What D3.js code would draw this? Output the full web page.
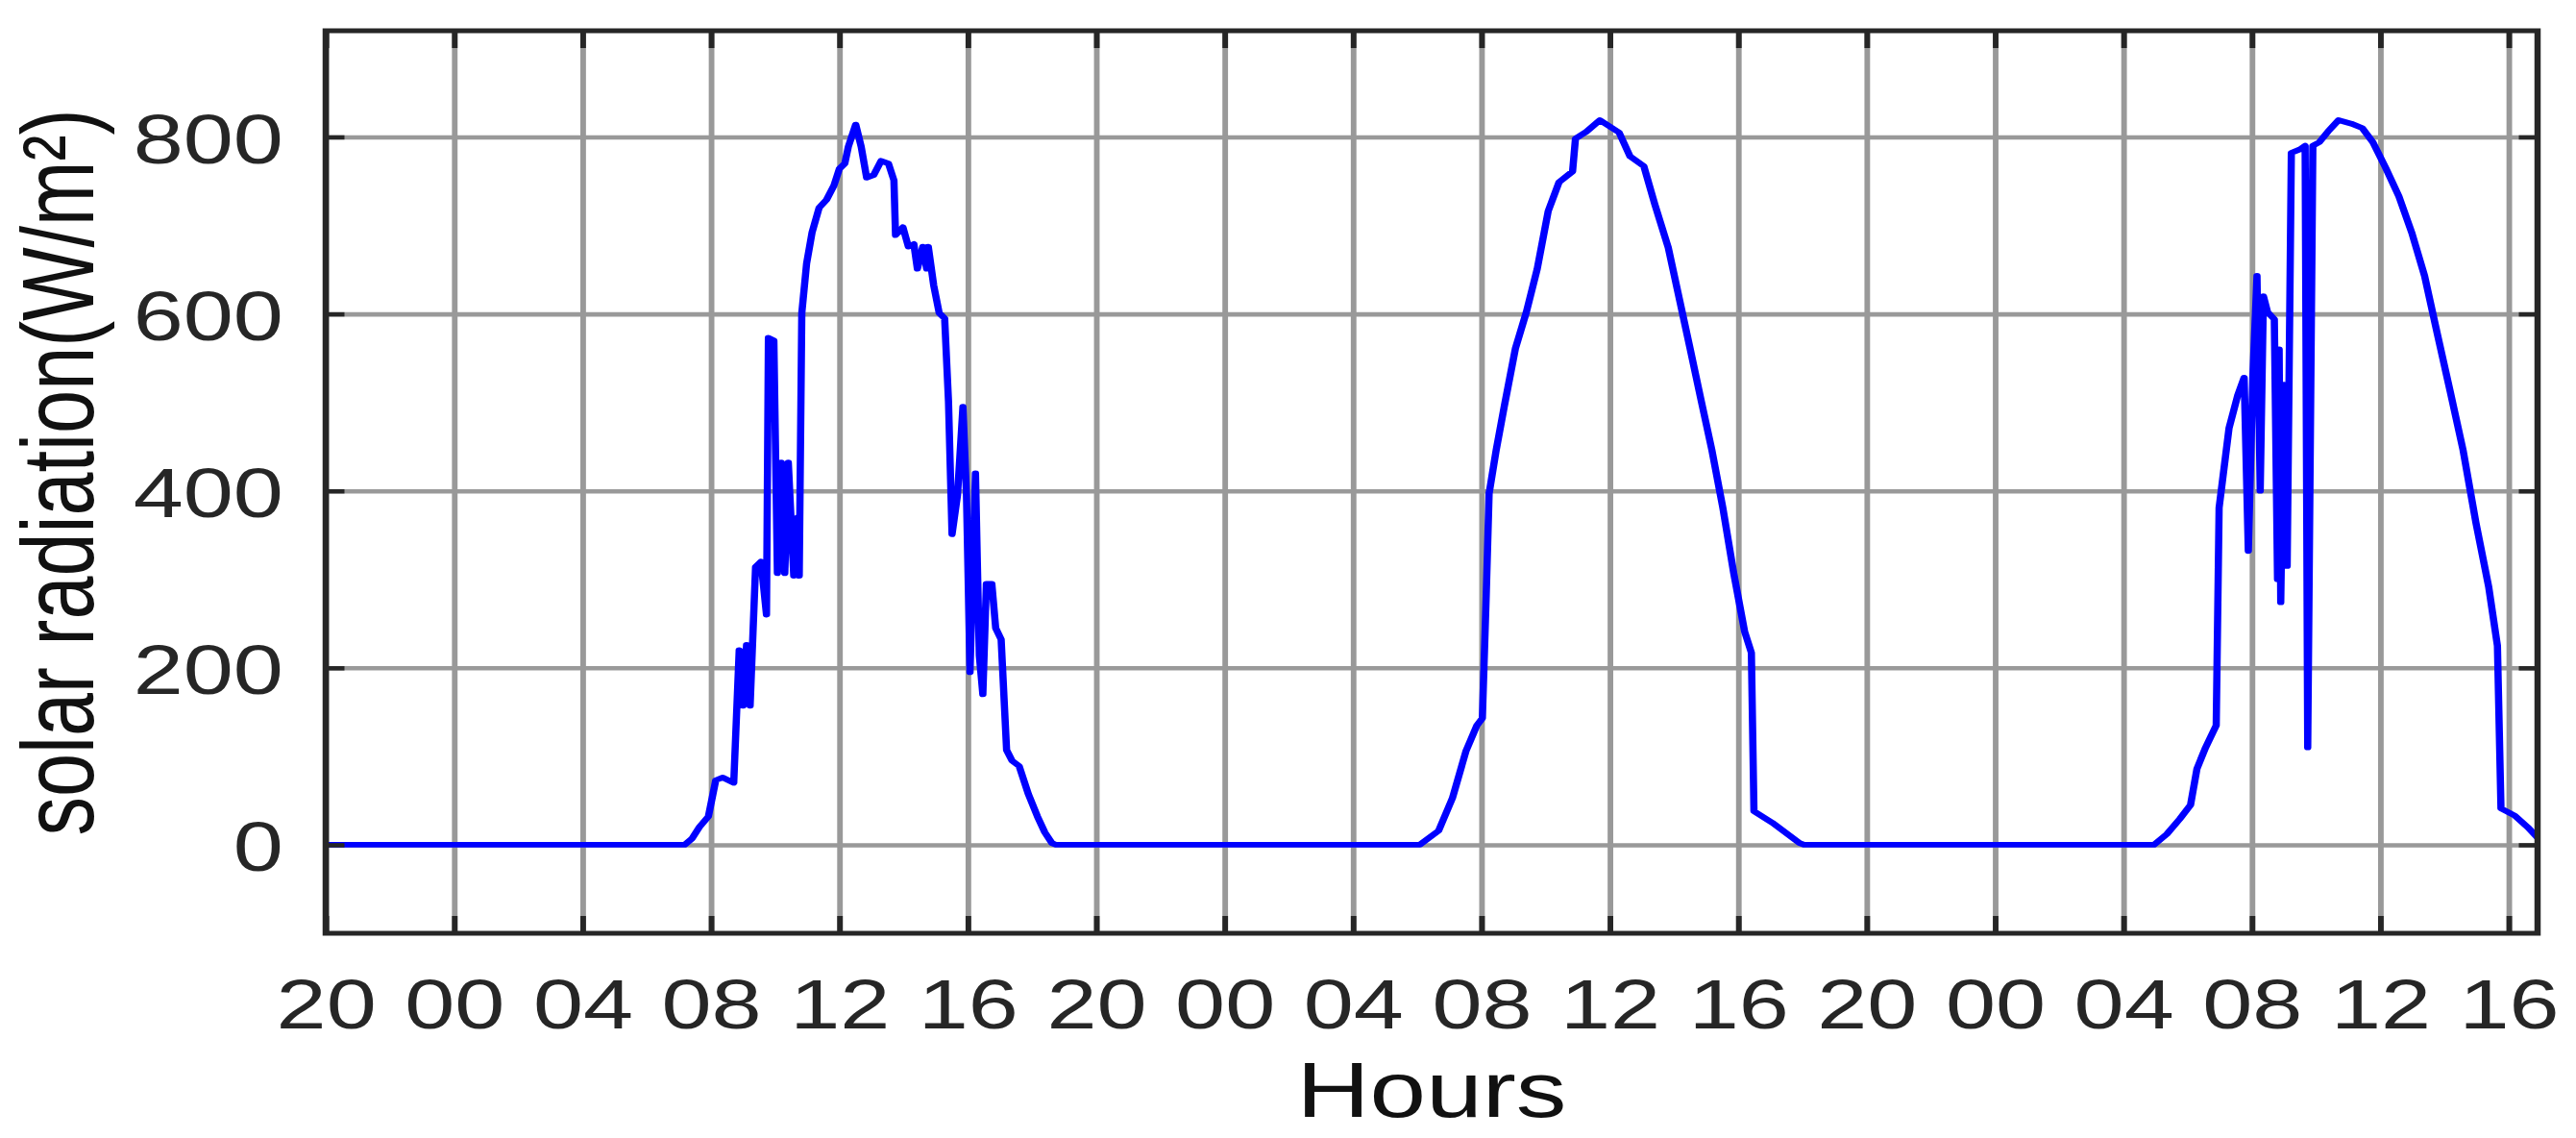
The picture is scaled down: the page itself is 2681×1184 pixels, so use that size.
<!DOCTYPE html>
<html>
<head>
<meta charset="utf-8">
<script src="https://cdn.jsdelivr.net/npm/d3@7"></script>
<style>
  body { margin: 0; background: #fff; }
  svg { display: block; }
  text { font-family: "Liberation Sans", Arial, sans-serif; }
</style>
</head>
<body>
<svg id="chart" width="2681" height="1184"></svg>
<script>
// hours counted from 20:00 of the first day
const hours = [
  0, 11.18, 11.41, 11.64, 11.92, 12.15, 12.37, 12.71, 12.88, 13.00, 13.11, 13.22,
  13.39, 13.56, 13.73, 13.79, 13.96, 14.07, 14.19, 14.30, 14.41, 14.58, 14.70, 14.75,
  14.83, 14.98, 15.15, 15.37, 15.60, 15.83, 16.00, 16.17, 16.28, 16.51, 16.68, 16.85,
  17.07, 17.30, 17.53, 17.70, 17.75, 17.98, 18.15, 18.32, 18.43, 18.60, 18.72, 18.77,
  18.94, 19.11, 19.28, 19.40, 19.51, 19.68, 19.85, 19.96, 20.07, 20.24, 20.36, 20.47,
  20.58, 20.75, 20.87, 21.04, 21.21, 21.38, 21.60, 21.89, 22.17, 22.40, 22.62, 22.75,
  34.08, 34.67, 35.10, 35.52, 35.86, 36.03, 36.15, 36.24, 36.46, 36.71, 37.06, 37.40,
  37.74, 38.08, 38.42, 38.84, 38.93, 39.27, 39.69, 40.29, 40.63, 41.06, 41.40, 41.82,
  42.16, 42.50, 42.84, 43.18, 43.52, 43.86, 44.20, 44.41, 44.49, 45.06, 45.91, 46.05,
  56.95, 57.35, 57.75, 58.09, 58.29, 58.56, 58.89, 58.98, 59.09, 59.29, 59.56, 59.76,
  59.89, 60.03, 60.16, 60.26, 60.36, 60.49, 60.70, 60.80, 60.85, 60.90, 61.00, 61.10,
  61.23, 61.50, 61.66, 61.74, 61.90, 62.10, 62.37, 62.70, 63.10, 63.44, 63.77, 64.17,
  64.58, 64.98, 65.38, 65.78, 66.18, 66.58, 66.98, 67.38, 67.65, 67.76, 68.19, 68.59,
  68.9
];
const radiation = [
  0, 0, 7, 20, 32, 73, 76, 70, 220, 157, 226, 157,
  314, 320, 260, 573, 570, 307, 432, 307, 432, 304, 370, 304,
  601, 657, 692, 720, 729, 745, 764, 770, 789, 814, 789, 754,
  757, 773, 770, 751, 689, 698, 676, 679, 651, 676, 651, 676,
  632, 601, 595, 501, 351, 395, 495, 395, 195, 420, 214, 170,
  295, 295, 245, 232, 107, 95, 89, 57, 32, 14, 2, 0,
  0, 16, 53, 106, 135, 143, 282, 397, 446, 495, 561, 602,
  651, 716, 749, 761, 798, 806, 819, 805, 778, 767, 724, 675,
  618, 561, 503, 446, 381, 307, 241, 217, 38, 25, 2, 0,
  0, 12, 29, 45, 86, 110, 135, 381, 413, 471, 508, 528,
  332, 528, 643, 400, 620, 602, 594, 300, 560, 274, 520, 315,
  782, 786, 790, 110, 790, 794, 806, 819, 815, 810, 794, 765,
  733, 692, 643, 577, 512, 446, 364, 291, 225, 41, 33, 20,
  8
];
const yTicks = [0, 200, 400, 600, 800];
const xTicks = d3.range(0, 69, 4);
const tickLabel = h => d3.format("02")((20 + h) % 24);

const sx = 1.3; // the figure is stretched sideways
const plotLeft = 339 / sx, plotRight = 2641 / sx, plotTop = 32, plotBottom = 971;
const tickFont = 72, labelFont = 81;

const svg = d3.select("#chart");
const g = svg.append("g").attr("transform", `scale(${sx},1)`);

const x = d3.scaleLinear().domain([0, 68.9]).range([plotLeft, plotRight]);
const y = d3.scaleLinear().domain([-100, 920]).range([plotBottom, plotTop]);

// grid
g.append("g")
  .attr("transform", `translate(0,${plotBottom})`)
  .call(d3.axisBottom(x).tickValues(xTicks).tickSize(-(plotBottom - plotTop)).tickFormat(""))
  .call(a => a.select(".domain").remove())
  .selectAll("line").attr("stroke", "#999").attr("stroke-width", 4.5);

g.append("g")
  .attr("transform", `translate(${plotLeft},0)`)
  .call(d3.axisLeft(y).tickValues(yTicks).tickSize(-(plotRight - plotLeft)).tickFormat(""))
  .call(a => a.select(".domain").remove())
  .selectAll("line").attr("stroke", "#999").attr("stroke-width", 4.6);

// series
g.append("clipPath").attr("id", "clip")
  .append("rect").attr("x", plotLeft).attr("y", plotTop)
  .attr("width", plotRight - plotLeft).attr("height", plotBottom - plotTop);

const line = d3.line()
  .x((d, i) => x(hours[i]))
  .y(d => y(d));

g.append("path")
  .datum(radiation)
  .attr("clip-path", "url(#clip)")
  .attr("fill", "none")
  .attr("stroke", "#0000ff")
  .attr("stroke-width", 5.8)
  .attr("stroke-linejoin", "round")
  .attr("d", line);

// axes with inward ticks
const dark = "#262626";
function styleAxis(a) {
  a.select(".domain").remove();
  a.selectAll("line").attr("stroke", dark).attr("stroke-width", 4.5);
  a.selectAll("text").attr("fill", dark).attr("font-size", tickFont);
}

g.append("g")
  .attr("transform", `translate(0,${plotBottom})`)
  .call(d3.axisBottom(x).tickValues(xTicks).tickSizeInner(-18).tickSizeOuter(0)
    .tickPadding(48).tickFormat(tickLabel))
  .call(styleAxis);

g.append("g")
  .attr("transform", `translate(0,${plotTop})`)
  .call(d3.axisTop(x).tickValues(xTicks).tickSizeInner(-18).tickSizeOuter(0).tickFormat(""))
  .call(styleAxis);

g.append("g")
  .attr("transform", `translate(${plotLeft},0)`)
  .call(d3.axisLeft(y).tickValues(yTicks).tickSizeInner(-15).tickSizeOuter(0)
    .tickPadding(34).tickFormat(d3.format("d")))
  .call(styleAxis)
  .selectAll("text").attr("dy", "0.37em");

g.append("g")
  .attr("transform", `translate(${plotRight},0)`)
  .call(d3.axisRight(y).tickValues(yTicks).tickSizeInner(-15).tickSizeOuter(0).tickFormat(""))
  .call(styleAxis);

// frame
g.append("rect")
  .attr("x", plotLeft).attr("y", plotTop)
  .attr("width", plotRight - plotLeft).attr("height", plotBottom - plotTop)
  .attr("fill", "none").attr("stroke", dark).attr("stroke-width", 5);

// labels
g.append("text")
  .attr("x", (plotLeft + plotRight) / 2).attr("y", 1162)
  .attr("text-anchor", "middle")
  .attr("font-size", labelFont).attr("fill", "#111")
  .text("Hours");

g.append("text")
  .attr("transform", `translate(${97 / sx},${(plotTop + plotBottom) / 2 - 10}) rotate(-90)`)
  .attr("text-anchor", "middle")
  .attr("font-size", labelFont).attr("fill", "#111")
  .text("solar radiation(W/m²)");
</script>
</body>
</html>
